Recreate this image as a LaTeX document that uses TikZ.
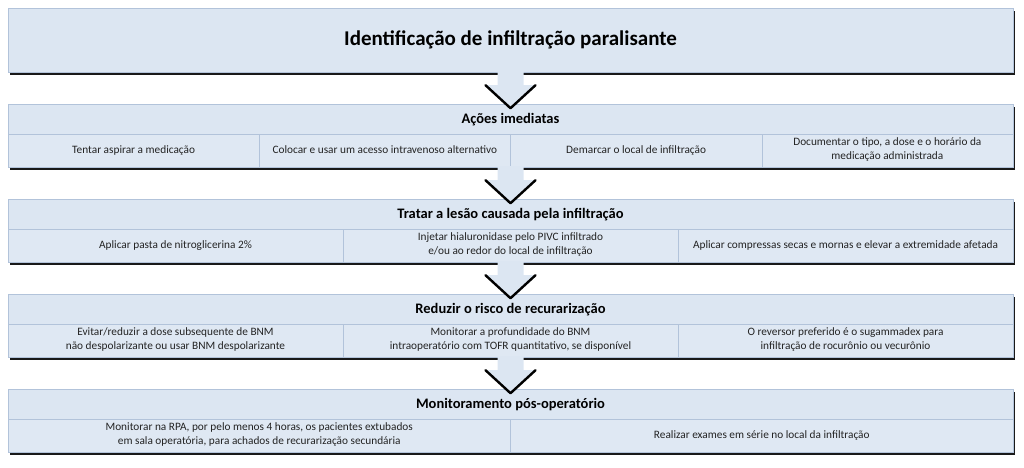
\documentclass[tikz,border=0pt]{standalone}
\usepackage{fontspec}
\setmainfont{Carlito}
\usepackage{tikz}
\usetikzlibrary{positioning, calc, shadows}
\definecolor{boxblue}{RGB}{220,230,242}
\definecolor{cellblue}{RGB}{223,232,243}
\definecolor{edgeblue}{RGB}{178,195,218}
\definecolor{textgrey}{RGB}{35,35,35}

\begin{document}
\begin{tikzpicture}[
	x=1pt, y=-1pt,
	boxshadow/.style={drop shadow={shadow xshift=2pt, shadow yshift=-3pt, fill=black, opacity=0.9}},
	mainbox/.style={draw=edgeblue, fill=boxblue, boxshadow, minimum width=1005pt, minimum height=64pt, font=\fontsize{21}{25}\selectfont\bfseries, text=black},
	titlebox/.style={draw=edgeblue, fill=boxblue, boxshadow, minimum width=1005pt, minimum height=30pt, outer sep=0pt, font=\fontsize{14.5}{17}\selectfont\bfseries, text=black},
	cell/.style={draw=edgeblue, fill=cellblue, boxshadow, minimum height=33pt, outer sep=0pt, inner xsep=2pt, inner ysep=1pt, align=center, font=\fontsize{11.3}{14}\selectfont, text=textgrey,
		execute at begin node=\strut, execute at end node=\strut},
	quarter/.style={cell, minimum width=251.25pt},
	third/.style={cell, minimum width=335pt},
	half/.style={cell, minimum width=502.5pt},
	pointer/.style={draw=black, line width=2.4pt, line join=round, line cap=round}
]
\useasboundingbox (0,0) rectangle (1024,467);

\node[mainbox] (ident) at (510.5,40) {Identificação de infiltração paralisante};

% acoes imediatas
\node[titlebox, below=32pt of ident] (acoes) {Ações imediatas};
\node[quarter, below right=0pt and 0pt of acoes.south west] (a1) {Tentar aspirar a medicação};
\node[quarter, right=0pt of a1] (a2) {Colocar e usar um acesso intravenoso alternativo};
\node[quarter, right=0pt of a2] (a3) {Demarcar o local de infiltração};
\node[quarter, right=0pt of a3] (a4) {Documentar o tipo, a dose e o horário da\\medicação administrada};

% tratar a lesao
\node[titlebox, below=32pt of a2.south east] (tratar) {Tratar a lesão causada pela infiltração};
\node[third, below right=0pt and 0pt of tratar.south west] (b1) {Aplicar pasta de nitroglicerina 2\%};
\node[third, right=0pt of b1] (b2) {Injetar hialuronidase pelo PIVC infiltrado\\e/ou ao redor do local de infiltração};
\node[third, right=0pt of b2] (b3) {Aplicar compressas secas e mornas e elevar a extremidade afetada};

% reduzir o risco
\node[titlebox, below=32pt of b2] (reduzir) {Reduzir o risco de recurarização};
\node[third, below right=0pt and 0pt of reduzir.south west] (c1) {Evitar/reduzir a dose subsequente de BNM\\não despolarizante ou usar BNM despolarizante};
\node[third, right=0pt of c1] (c2) {Monitorar a profundidade do BNM\\intraoperatório com TOFR quantitativo, se disponível};
\node[third, right=0pt of c2] (c3) {O reversor preferido é o sugammadex para\\infiltração de rocurônio ou vecurônio};

% monitoramento
\node[titlebox, below=32pt of c2] (monitor) {Monitoramento pós-operatório};
\node[half, below right=0pt and 0pt of monitor.south west] (d1) {Monitorar na RPA, por pelo menos 4 horas, os pacientes extubados\\em sala operatória, para achados de recurarização secundária};
\node[half, right=0pt of d1] (d2) {Realizar exames em série no local da infiltração};

% arrows between stages
\foreach \from/\to in {ident.south/acoes, a2.south east/tratar, b2.south/reduzir, c2.south/monitor}{
	\fill[boxblue] ($(\from)+(-13,-1)$) -- ($(\from)+(-13,13)$) -- ($(\from)+(-25,13)$) -- ($(\to.north)+(0,4)$)
		-- ($(\from)+(25,13)$) -- ($(\from)+(13,13)$) -- ($(\from)+(13,-1)$) -- cycle;
	\draw[pointer] ($(\from)+(-25,13)$) -- ($(\to.north)+(0,4)$) -- ($(\from)+(25,13)$);
}

\end{tikzpicture}
\end{document}
